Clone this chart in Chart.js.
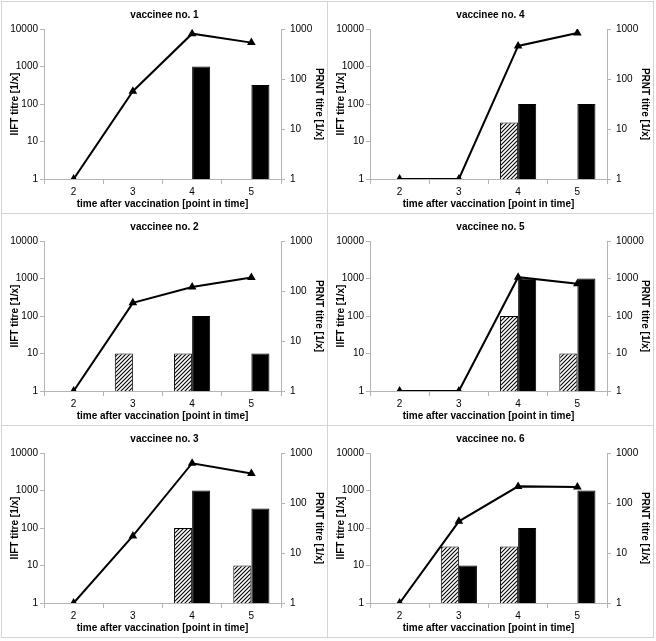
<!DOCTYPE html>
<html>
<head>
<meta charset="utf-8">
<script src="https://cdn.jsdelivr.net/npm/chart.js@4/dist/chart.umd.min.js"></script>
<style>
  body { margin: 0; background: #fff; }
  .panel { position: absolute; box-sizing: border-box; width: 327px; height: 213px; border: 1px solid #d4d4d4; background: #fff; }
  .panel canvas { display: block; }
</style>
</head>
<body>
<div id="wrap"></div>
<script>
// x categories and tick labels
const timePoints = ['2', '3', '4', '5'];
const iiftTicks = [1, 10, 100, 1000, 10000];
const prntTicks = [1, 10, 100, 1000];
const prntTicksWide = [1, 10, 100, 1000, 10000];

// vaccinee 1
const v1Hatched = [null, null, null, null];
const v1Black = [null, null, 1000, 320];
const v1Prnt = [1, 57, 806, 534];
// vaccinee 2
const v2Hatched = [null, 10, 10, null];
const v2Black = [null, null, 100, 10];
const v2Prnt = [1, 58, 120, 186];
// vaccinee 3
const v3Hatched = [null, null, 100, 10];
const v3Black = [null, null, 1000, 330];
const v3Prnt = [1, 22, 624, 390];
// vaccinee 4
const v4Hatched = [null, null, 32, null];
const v4Black = [null, null, 100, 100];
const v4Prnt = [1, 1, 459, 835];
// vaccinee 5 (right axis up to 10000)
const v5Hatched = [null, null, 100, 10];
const v5Black = [null, null, 1000, 1000];
const v5Prnt = [1, 1, 1084, 721];
// vaccinee 6
const v6Hatched = [null, 32, 32, null];
const v6Black = [null, 10, 100, 1000];
const v6Prnt = [1, 43, 215, 208];

const panels = [
    { title: 'vaccinee no. 1', hatched: v1Hatched, black: v1Black, prnt: v1Prnt, rTicks: prntTicks, col: 0, row: 0 },
    { title: 'vaccinee no. 2', hatched: v2Hatched, black: v2Black, prnt: v2Prnt, rTicks: prntTicks, col: 0, row: 1 },
    { title: 'vaccinee no. 3', hatched: v3Hatched, black: v3Black, prnt: v3Prnt, rTicks: prntTicks, col: 0, row: 2 },
    { title: 'vaccinee no. 4', hatched: v4Hatched, black: v4Black, prnt: v4Prnt, rTicks: prntTicks, col: 1, row: 0 },
    { title: 'vaccinee no. 5', hatched: v5Hatched, black: v5Black, prnt: v5Prnt, rTicks: prntTicksWide, col: 1, row: 1 },
    { title: 'vaccinee no. 6', hatched: v6Hatched, black: v6Black, prnt: v6Prnt, rTicks: prntTicks, col: 1, row: 2 }
];

// 斜線パターン
function makeHatch() {
    const c = document.createElement('canvas');
    c.width = 4; c.height = 4;
    const g = c.getContext('2d');
    g.fillStyle = '#fff';
    g.fillRect(0, 0, 4, 4);
    g.strokeStyle = '#000';
    g.lineWidth = 1.1;
    g.beginPath();
    g.moveTo(0, 4); g.lineTo(4, 0);
    g.moveTo(-1, 1); g.lineTo(1, -1);
    g.moveTo(3, 5); g.lineTo(5, 3);
    g.stroke();
    return g.createPattern(c, 'repeat');
}

const FONT = "'Liberation Sans', Arial, sans-serif";
const axisGrey = '#b4b4b4';

function fixedTicks(values) {
    return function (scale) {
        scale.ticks = values.map(v => ({ value: v }));
    };
}

function buildPanel(p) {
    const div = document.createElement('div');
    div.className = 'panel';
    div.style.left = (1 + p.col * 326) + 'px';
    div.style.top = (1 + p.row * 212) + 'px';
    const canvas = document.createElement('canvas');
    canvas.width = 325;
    canvas.height = 211;
    div.appendChild(canvas);
    document.getElementById('wrap').appendChild(div);

    const hatch = makeHatch();
    const rMax = p.rTicks[p.rTicks.length - 1];

    new Chart(canvas.getContext('2d'), {
        type: 'bar',
        data: {
            labels: timePoints,
            datasets: [
                {
                    type: 'line',
                    data: p.prnt,
                    yAxisID: 'y1',
                    borderColor: '#000',
                    borderWidth: 2,
                    pointStyle: 'triangle',
                    pointRadius: 3,
                    pointBackgroundColor: '#000',
                    pointBorderColor: '#000',
                    tension: 0,
                    order: 0
                },
                {
                    data: p.hatched,
                    yAxisID: 'y',
                    backgroundColor: hatch,
                    borderColor: '#000',
                    borderWidth: 1,
                    order: 1
                },
                {
                    data: p.black,
                    yAxisID: 'y',
                    backgroundColor: '#000',
                    borderColor: '#000',
                    borderWidth: 1,
                    order: 1
                }
            ]
        },
        options: {
            responsive: false,
            animation: false,
            categoryPercentage: 0.61,
            barPercentage: 1.0,
            layout: { padding: 0 },
            plugins: {
                legend: { display: false },
                tooltip: { enabled: false },
                title: {
                    display: true,
                    text: p.title,
                    color: '#000',
                    font: { family: FONT, size: 10, weight: 'bold' },
                    padding: { top: 7, bottom: 8 }
                }
            },
            scales: {
                x: {
                    offset: true,
                    grid: { display: true, drawOnChartArea: false, offset: true, tickLength: 5, color: axisGrey },
                    border: { color: axisGrey },
                    ticks: { color: '#000', font: { family: FONT, size: 10 }, padding: 2 },
                    title: {
                        display: true,
                        text: 'time after vaccination [point in time]',
                        color: '#000',
                        font: { family: FONT, size: 10, weight: 'bold' },
                        padding: { top: 0, bottom: 3 }
                    },
                    afterFit: s => { s.height = 34; }
                },
                y: {
                    type: 'logarithmic',
                    position: 'left',
                    min: 1,
                    max: 10000,
                    afterBuildTicks: fixedTicks(iiftTicks),
                    grid: { display: true, drawOnChartArea: false, tickLength: 4, color: axisGrey },
                    border: { color: axisGrey },
                    ticks: { color: '#000', font: { family: FONT, size: 10 }, padding: 2, callback: v => String(v) },
                    title: {
                        display: true,
                        text: 'IIFT titre [1/x]',
                        color: '#000',
                        font: { family: FONT, size: 10, weight: 'bold' },
                        padding: { top: 7, bottom: 0 }
                    },
                    afterFit: s => { s.width = 42; }
                },
                y1: {
                    type: 'logarithmic',
                    position: 'right',
                    min: 1,
                    max: rMax,
                    afterBuildTicks: fixedTicks(p.rTicks),
                    grid: { display: true, drawOnChartArea: false, tickLength: 4, color: axisGrey },
                    border: { color: axisGrey },
                    ticks: { color: '#000', font: { family: FONT, size: 10 }, padding: 5, callback: v => String(v) },
                    title: {
                        display: true,
                        text: 'PRNT titre [1/x]',
                        color: '#000',
                        font: { family: FONT, size: 10, weight: 'bold' },
                        padding: { top: 2, bottom: 0 }
                    },
                    afterFit: s => { s.width = 46; }
                }
            }
        }
    });
}

panels.forEach(buildPanel);
</script>
</body>
</html>
